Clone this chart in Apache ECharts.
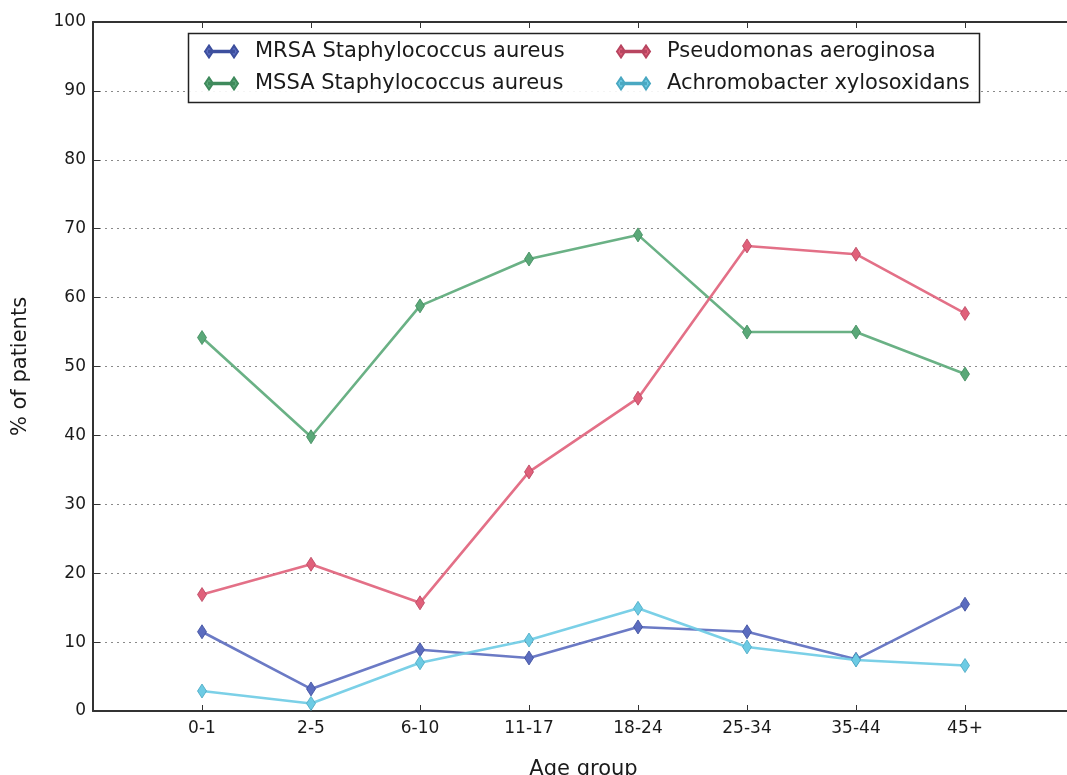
<!DOCTYPE html>
<html>
<head>
<meta charset="utf-8">
<script src="https://cdn.jsdelivr.net/npm/echarts@6/dist/echarts.min.js"></script>
<style>
  html, body { margin: 0; padding: 0; background: #fff; }
  #chart { width: 1067px; height: 775px; }
</style>
</head>
<body>
<div id="chart"></div>
<script>
// Age groups along the x axis
const ageGroups = ['0-1', '2-5', '6-10', '11-17', '18-24', '25-34', '35-44', '45+'];

// % of patients per organism and age group
const mrsa = [11.5, 3.2, 8.9, 7.7, 12.2, 11.5, 7.5, 15.5];
const mssa = [54.2, 39.8, 58.8, 65.6, 69.1, 55.0, 55.0, 48.9];
const pseudomonas = [16.9, 21.3, 15.7, 34.7, 45.4, 67.5, 66.3, 57.7];
const achromobacter = [2.9, 1.1, 7.0, 10.3, 14.9, 9.3, 7.4, 6.6];

const seriesNames = [
  'MRSA Staphylococcus aureus',
  'MSSA Staphylococcus aureus',
  'Pseudomonas aeroginosa',
  'Achromobacter xylosoxidans'
];
const seriesColors = ['#5b6cbf', '#5aa878', '#e0607a', '#6dcbe4'];
const seriesEdge = ['#3d4f9e', '#3f8a5c', '#b84560', '#4aa8c2'];
const yTicks = [0, 10, 20, 30, 40, 50, 60, 70, 80, 90, 100];

const FONT = 'DejaVu Sans';
// Legend glyph: a short line with a thin diamond at each end
const legendIcon = 'path://M0,6L4,0L8,6L4,12Z M4,5.2L29,5.2L29,6.8L4,6.8Z M25,6L29,0L33,6L29,12Z';

function toPoints(values) {
  return values.map((v, i) => [i, v]);
}

const allValues = [mrsa, mssa, pseudomonas, achromobacter];

const chart = echarts.init(document.getElementById('chart'), null, { renderer: 'canvas' });

const legendText = { fontSize: 21, color: '#1a1a1a', fontFamily: FONT, padding: [0, 0, 0, 12] };

const option = {
  backgroundColor: '#ffffff',
  animation: false,
  textStyle: { fontFamily: FONT },
  grid: { left: 93, top: 22, bottom: 64, width: 981, containLabel: false, outerBoundsMode: 'none' },
  xAxis: [
    {
      type: 'value',
      min: -1,
      max: 8,
      interval: 1,
      position: 'bottom',
      name: 'Age group',
      nameLocation: 'middle',
      nameGap: 48,
      nameTextStyle: { fontSize: 21, color: '#1a1a1a', fontFamily: FONT },
      axisLine: { show: true, onZero: false, lineStyle: { color: '#333', width: 2 } },
      axisTick: { show: true, inside: true, length: 6, lineStyle: { color: '#333', width: 1 } },
      axisLabel: {
        fontSize: 17,
        color: '#1a1a1a',
        margin: 9,
        fontFamily: FONT,
        formatter: v => (v >= 0 && v < ageGroups.length ? ageGroups[v] : '')
      },
      splitLine: { show: false }
    },
    {
      type: 'value',
      min: -1,
      max: 8,
      interval: 1,
      position: 'top',
      axisLine: { show: true, onZero: false, lineStyle: { color: '#333', width: 2 } },
      axisTick: { show: true, inside: true, length: 6, lineStyle: { color: '#333', width: 1 } },
      axisLabel: { show: false },
      splitLine: { show: false }
    }
  ],
  yAxis: {
    type: 'value',
    min: yTicks[0],
    max: yTicks[yTicks.length - 1],
    interval: 10,
    name: '% of patients',
    nameLocation: 'middle',
    nameGap: 62,
    nameTextStyle: { fontSize: 21, color: '#1a1a1a', fontFamily: FONT },
    axisLine: { show: true, onZero: false, lineStyle: { color: '#333', width: 2 } },
    axisTick: { show: true, inside: true, length: 7, lineStyle: { color: '#333', width: 1 } },
    axisLabel: { fontSize: 17, color: '#1a1a1a', margin: 7, fontFamily: FONT },
    splitLine: { show: true, lineStyle: { color: '#8a8a8a', type: [2, 4], width: 1 } }
  },
  legend: [
    {
      orient: 'vertical',
      left: 199,
      top: 36,
      itemGap: 11,
      itemWidth: 33,
      itemHeight: 12,
      icon: legendIcon,
      textStyle: legendText,
      data: [seriesNames[0], seriesNames[1]]
    },
    {
      orient: 'vertical',
      left: 611,
      top: 36,
      itemGap: 11,
      itemWidth: 33,
      itemHeight: 12,
      icon: legendIcon,
      textStyle: legendText,
      data: [seriesNames[2], seriesNames[3]]
    }
  ],
  graphic: [
    {
      type: 'rect',
      shape: { x: 188.5, y: 33.5, width: 791, height: 69 },
      style: { fill: 'rgba(255,255,255,0.9)', stroke: '#222', lineWidth: 1.5 },
      z: 3
    }
  ],
  series: allValues.map((vals, k) => ({
    name: seriesNames[k],
    type: 'line',
    xAxisIndex: 0,
    data: toPoints(vals),
    symbol: 'diamond',
    symbolSize: [9, 14],
    showSymbol: true,
    lineStyle: { color: seriesColors[k], width: 2.6, opacity: 0.9 },
    itemStyle: { color: seriesColors[k], borderColor: seriesEdge[k], borderWidth: 0.8 },
    emphasis: { disabled: true },
    z: 2 + k * 0.1
  }))
};

chart.setOption(option);
</script>
</body>
</html>
